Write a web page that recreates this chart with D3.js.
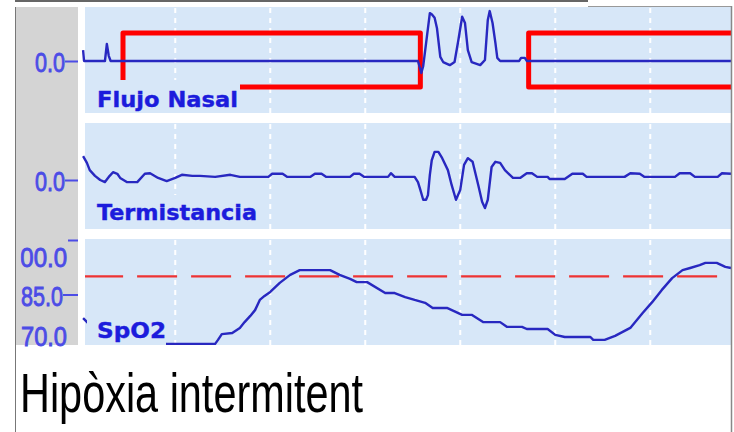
<!DOCTYPE html>
<html>
<head>
<meta charset="utf-8">
<script src="https://cdn.jsdelivr.net/npm/d3@7"></script>
<style>
  body { margin: 0; background: #fff; }
  svg { display: block; }
</style>
</head>
<body>
<div id="chart"></div>
<script>
// time in seconds, grid every 10 s
var gridTicks = [9.5, 19.5, 29.5, 39.5, 49.5, 59.5];

var panelNames = ["Flujo Nasal", "Termistancia", "SpO2"];

// nasal flow (arbitrary units, 0 = baseline)
var flujoNasal = [
  [-0.2, 0.21], [-0.1, 0], [2.1, 0], [2.3, 0.33], [2.5, 0.1], [2.7, 0],
  [35.05, 0], [35.4, -0.23], [35.6, -0.1], [36.3, 0.92], [36.5, 0.9],
  [36.8, 0.83], [37.05, 0.63], [37.4, 0.08], [37.7, -0.02], [38.4, -0.08],
  [38.9, -0.02], [39.3, 0.4], [39.7, 0.85], [40.0, 0.73], [40.3, 0.21],
  [40.7, -0.02], [41.6, -0.08], [42.1, 0.02], [42.4, 0.79], [42.6, 0.96],
  [42.9, 0.73], [43.2, 0.35], [43.4, 0.06], [43.7, 0], [45.7, 0],
  [45.9, 0.06], [46.3, 0.06], [46.5, 0], [68, 0]
];

// thermistor signal
var termistancia = [
  [-0.2, 0.46], [0.2, 0.33], [0.5, 0.19], [1.05, 0.08], [1.6, 0], [2.1, -0.04],
  [2.6, 0.08], [2.95, 0.15], [3.4, 0.12], [3.7, 0.04], [4.4, -0.04], [5.5, -0.04],
  [6.3, 0.12], [6.85, 0.13], [7.7, 0.04], [8.6, -0.02], [9.5, 0.04], [10.2, 0.1],
  [11.3, 0.08], [12.1, 0.08], [13.7, 0.06], [15.3, 0.1], [16.3, 0.06],
  [19.3, 0.06], [19.7, 0.12], [20.8, 0.12], [21.3, 0.06], [23.7, 0.06],
  [24.2, 0.12], [24.9, 0.12], [25.4, 0.06], [27.9, 0.06], [28.3, 0.12],
  [28.9, 0.12], [29.4, 0.06], [31.9, 0.06], [32.2, 0.13], [32.6, 0.06],
  [34.7, 0.06], [35.05, -0.04], [35.3, -0.19], [35.6, -0.38], [35.9, -0.38],
  [36.1, -0.29], [36.3, 0.1], [36.5, 0.38], [36.8, 0.54], [37.2, 0.54],
  [37.6, 0.42], [38.2, 0.19], [38.6, -0.1], [39.05, -0.38], [39.5, -0.19],
  [39.9, 0.29], [40.3, 0.42], [40.8, 0.35], [41.4, -0.1], [41.8, -0.42],
  [42.1, -0.54], [42.4, -0.38], [42.8, 0.25], [43.2, 0.35], [43.7, 0.33],
  [44.2, 0.19], [45.05, 0.04], [45.8, 0.04], [46.5, 0.13], [47.05, 0.13],
  [47.6, 0.06], [48.7, 0.06], [48.9, 0.02], [50.5, 0.02], [51.3, 0.12],
  [52.4, 0.12], [52.8, 0.06], [56.8, 0.06], [57.4, 0.13], [58.4, 0.12],
  [58.9, 0.06], [62.1, 0.06], [62.6, 0.13], [63.7, 0.13], [64.2, 0.06],
  [66.6, 0.06], [67.05, 0.13], [68, 0.12]
];

// oxygen saturation (%)
var spo2 = [
  [-0.2, 78.5], [0.3, 77.2], [3.7, 72.5], [8.6, 71.4], [13.7, 71.4], [14.0, 72.5],
  [14.4, 74.1], [15.5, 74.4], [16.3, 75.8], [16.8, 77.4], [17.4, 79.1],
  [17.9, 80.7], [18.4, 83.5], [18.9, 84.6], [19.5, 85.7], [20.5, 88.2],
  [21.6, 90.4], [22.6, 91.7], [25.8, 91.7], [26.8, 90.4], [27.9, 89.3],
  [28.6, 88.4], [29.7, 88.4], [31.6, 85.4], [32.6, 85.4], [33.7, 84.3],
  [34.7, 83.5], [35.8, 82.7], [36.6, 81.3], [38.1, 81.3], [39.7, 79.4],
  [40.7, 79.4], [41.9, 77.4], [43.7, 77.4], [44.4, 76.1], [46.0, 76.1],
  [46.5, 75.5], [48.7, 75.5], [49.5, 73.9], [50.5, 73.3], [53.2, 73.3],
  [53.5, 72.5], [54.7, 72.5], [55.8, 73.6], [57.4, 75.8], [58.7, 79.9],
  [59.7, 82.9], [60.7, 86.2], [61.8, 89.5], [62.9, 91.7], [63.7, 92.3],
  [64.7, 93.1], [65.3, 93.7], [66.5, 93.7], [67.4, 92.6], [68, 92.3]
];

// apnea events marked on the flow channel [start, end] (s)
var apneaEvents = [[4.0, 35.3], [46.7, 70]];
var apneaLevels = [-0.5, 0.54];

var spo2Threshold = 90;
var thresholdSpan = [-0.2, 67.05];

var flowTicks = [0];
var spo2Ticks = [100, 85, 70];

var title = "Hipòxia intermitent";

var W = 734, H = 432;
var blue = "#2828c0", labelBlue = "#1c1cdc", tickBlue = "#4c4ce6",
    panelBg = "#d7e7f8";

var svg = d3.select("#chart").append("svg")
    .attr("width", W)
    .attr("height", H);

var defs = svg.append("defs");
defs.append("clipPath").attr("id", "plotclip")
  .append("rect").attr("x", 85).attr("y", 0).attr("width", 646).attr("height", H);
defs.append("clipPath").attr("id", "tickclip")
  .append("rect").attr("x", 20.5).attr("y", 0).attr("width", 70).attr("height", H);

var x = d3.scaleLinear().domain([0, 68]).range([85, 731]);

var panels = [
  {top: 7, bottom: 113, y: d3.scaleLinear().domain([-1, 1]).range([113, 9]), data: flujoNasal},
  {top: 123, bottom: 229, y: d3.scaleLinear().domain([-1, 1]).range([232, 128]), data: termistancia},
  {top: 239, bottom: 345, y: d3.scaleLinear().domain([70, 100]).range([349, 240]), data: spo2}
];

// grey scale column on the left
svg.append("rect")
    .attr("x", 16).attr("y", 7)
    .attr("width", 62).attr("height", 338)
    .attr("fill", "#d4d4d4");

panels.forEach(function(p, i) {
  var g = svg.append("g").attr("clip-path", "url(#plotclip)");

  g.append("rect")
      .attr("x", 85).attr("y", p.top)
      .attr("width", 646).attr("height", p.bottom - p.top)
      .attr("fill", panelBg);

  g.selectAll(".grid")
    .data(gridTicks)
    .enter().append("line")
      .attr("class", "grid")
      .attr("x1", function(d) { return x(d); })
      .attr("x2", function(d) { return x(d); })
      .attr("y1", p.top + 1)
      .attr("y2", p.bottom)
      .attr("stroke", "#fff")
      .attr("stroke-width", 2)
      .attr("stroke-dasharray", "5,5");

  if (i === 0) {
    g.selectAll(".apnea")
      .data(apneaEvents)
      .enter().append("rect")
        .attr("class", "apnea")
        .attr("x", function(d) { return x(d[0]); })
        .attr("y", p.y(apneaLevels[1]))
        .attr("width", function(d) { return x(d[1]) - x(d[0]); })
        .attr("height", p.y(apneaLevels[0]) - p.y(apneaLevels[1]))
        .attr("fill", "none")
        .attr("stroke", "#ff0000")
        .attr("stroke-width", 5)
        .attr("stroke-linejoin", "round");
  }

  if (i === 2) {
    g.append("line")
        .attr("x1", x(thresholdSpan[0]))
        .attr("x2", x(thresholdSpan[1]))
        .attr("y1", p.y(spo2Threshold))
        .attr("y2", p.y(spo2Threshold))
        .attr("stroke", "#ee3333")
        .attr("stroke-width", 2.2)
        .attr("stroke-dasharray", "40,14");
  }

  var line = d3.line()
      .x(function(d) { return x(d[0]); })
      .y(function(d) { return p.y(d[1]); });

  svg.append("path")
      .datum(p.data)
      .attr("d", line)
      .attr("fill", "none")
      .attr("stroke", blue)
      .attr("stroke-width", 2.4)
      .attr("stroke-linejoin", "round");
});

// channel name boxes (opaque, they hide what is behind)
var labelBoxes = [
  {x: 87, y: 80, w: 153, h: 33, base: 107, len: 141},
  {x: 87, y: 195, w: 172, h: 34, base: 220, len: 160},
  {x: 87, y: 311, w: 79, h: 34, base: 338, len: 69}
];

labelBoxes.forEach(function(b, i) {
  svg.append("rect")
      .attr("x", b.x).attr("y", b.y)
      .attr("width", b.w).attr("height", b.h)
      .attr("fill", panelBg);
  svg.append("text")
      .attr("x", 97)
      .attr("y", b.base)
      .attr("textLength", b.len)
      .attr("lengthAdjust", "spacingAndGlyphs")
      .style("font", "bold 22px 'DejaVu Sans'")
      .attr("fill", labelBlue)
      .attr("stroke", labelBlue)
      .attr("stroke-width", 0.4)
      .text(panelNames[i]);
});

// value axes
function styleAxis(g) {
  g.select(".domain").remove();
  g.selectAll(".tick line").attr("stroke", tickBlue).attr("stroke-width", 2);
  g.selectAll(".tick text")
      .attr("fill", tickBlue)
      .attr("stroke", tickBlue)
      .attr("stroke-width", 0.9)
      .style("font", "28px 'Liberation Sans'")
      .attr("lengthAdjust", "spacingAndGlyphs");
}

var tickWidths = {"0.0": 30, "100.0": 60, "85.0": 42, "70.0": 46};

[0, 1].forEach(function(i) {
  var ax = svg.append("g")
      .attr("transform", "translate(78,0)")
      .call(d3.axisLeft(panels[i].y).tickValues(flowTicks).tickSize(13).tickPadding(0)
        .tickFormat(d3.format(".1f")));
  styleAxis(ax);
  ax.selectAll(".tick text").attr("dy", "0.36em")
      .attr("textLength", function() { return tickWidths[this.textContent]; });
});

// clip sits on an untransformed wrapper so it works in page coordinates
var axSp = svg.append("g")
    .attr("clip-path", "url(#tickclip)")
  .append("g")
    .attr("transform", "translate(78,0)")
    .call(d3.axisLeft(panels[2].y).tickValues(spo2Ticks).tickSize(13).tickPadding(1)
      .tickFormat(d3.format(".1f")));
styleAxis(axSp);
axSp.selectAll(".tick text")
    .attr("textLength", function() { return tickWidths[this.textContent]; })
    .attr("dy", function(d) { return d === 100 ? "0.96em" : d === 70 ? "-0.12em" : "0.38em"; })
    .attr("x", function(d) { return d === 85 ? -15 : -11; });
axSp.selectAll(".tick line")
    .attr("x2", function(d) { return d === 85 ? -15 : -10; })
    .attr("opacity", function(d) { return d === 70 ? 0 : 1; });

// outer frame
svg.append("line").attr("x1", 15).attr("x2", 588).attr("y1", 1).attr("y2", 1)
    .attr("stroke", "#666").attr("stroke-width", 2);
svg.append("line").attr("x1", 588).attr("x2", 731).attr("y1", 6.5).attr("y2", 6.5)
    .attr("stroke", "#999").attr("stroke-width", 1);
svg.append("line").attr("x1", 15.5).attr("x2", 15.5).attr("y1", 7).attr("y2", H)
    .attr("stroke", "#777").attr("stroke-width", 1);
svg.append("line").attr("x1", 731.5).attr("x2", 731.5).attr("y1", 6).attr("y2", H)
    .attr("stroke", "#888").attr("stroke-width", 1.5);

svg.append("text")
    .attr("x", 20)
    .attr("y", 412)
    .attr("textLength", 343)
    .attr("lengthAdjust", "spacingAndGlyphs")
    .style("font", "56px 'Liberation Sans'")
    .attr("fill", "#000")
    .text(title);
</script>
</body>
</html>
